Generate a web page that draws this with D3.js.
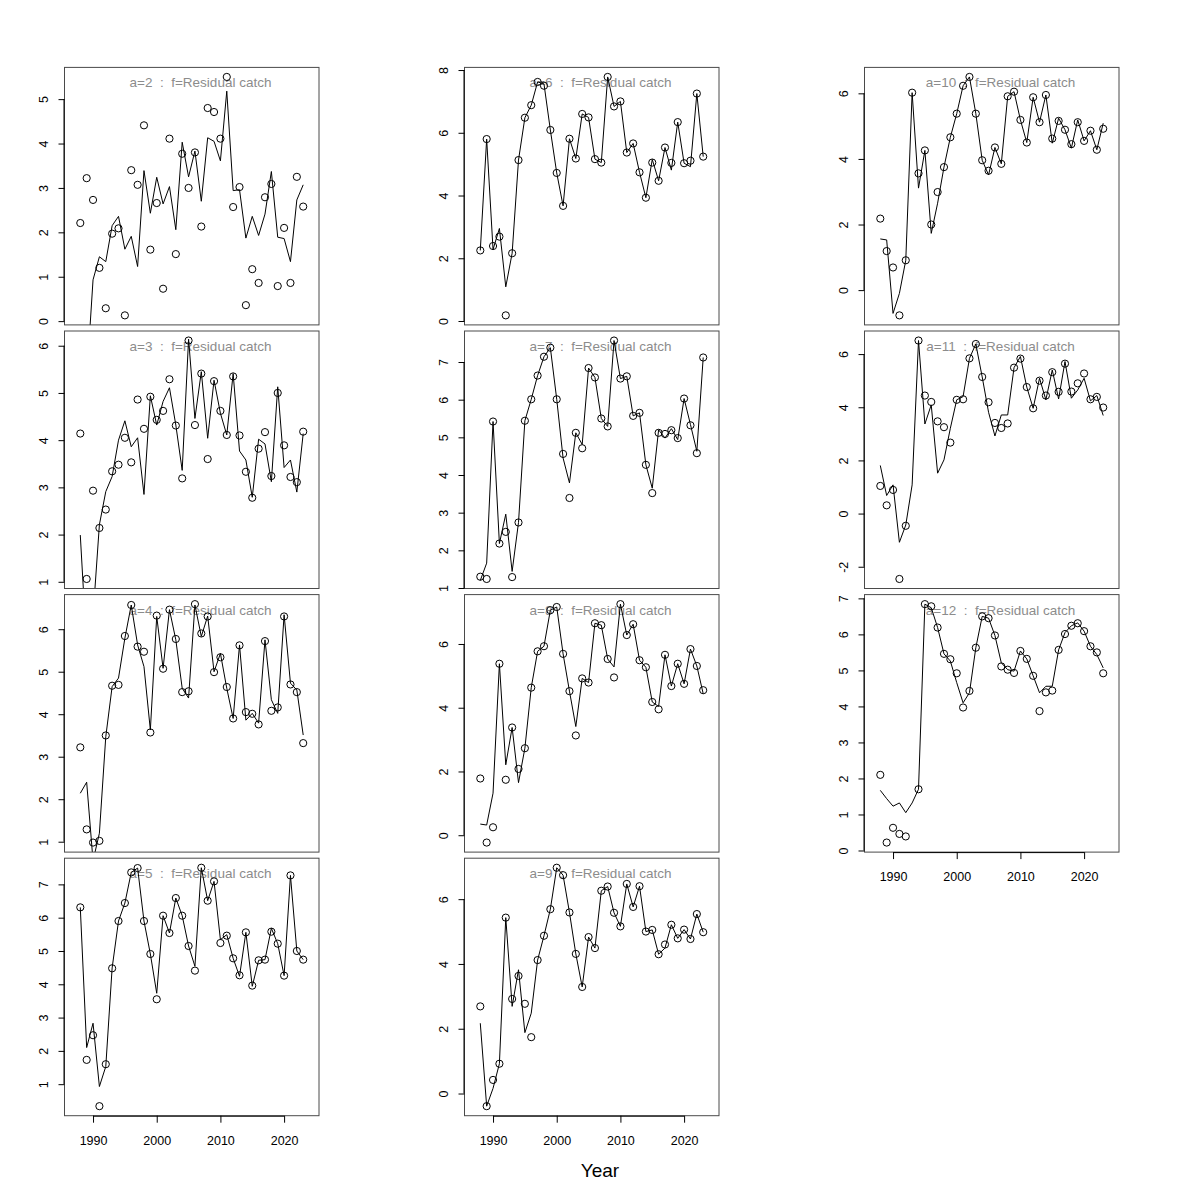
<!DOCTYPE html>
<html><head><meta charset="utf-8">
<script src="https://cdn.jsdelivr.net/npm/d3@7"></script>
<style>
body{margin:0;background:#fff;}
text{font-family:"Liberation Sans", Arial, Helvetica, sans-serif;}
</style>
</head><body>
<svg id="chart" width="1200" height="1200"></svg>
<script>
const years = [1988,1989,1990,1991,1992,1993,1994,1995,1996,1997,1998,1999,2000,2001,2002,2003,2004,2005,2006,2007,2008,2009,2010,2011,2012,2013,2014,2015,2016,2017,2018,2019,2020,2021,2022,2023];
const xTicks = [1990,2000,2010,2020];
const ages = [2,3,4,5,6,7,8,9,10,11,12];

const obs2 = [2.21,3.22,2.73,1.20,0.29,1.97,2.09,0.13,3.40,3.07, 4.41,1.61,2.66,0.73,4.11,1.51,3.77,3.00,3.80,2.13, 4.80,4.71,4.11,5.50,2.57,3.02,0.36,1.17,0.86,2.79, 3.09,0.79,2.10,0.86,3.25,2.58];
const fit2 = [-2.0,-1.3,0.93,1.45,1.34,2.15,2.36,1.62,1.91,1.23, 3.39,2.43,3.24,2.64,3.03,2.06,4.03,3.25,3.83,2.70, 4.13,4.05,3.61,5.18,2.94,2.96,1.87,2.36,1.93,2.41, 3.37,1.89,1.86,1.34,2.73,3.07];
const ticks2 = [0,1,2,3,4,5];

const obs3 = [4.14,1.06,2.93,2.14,2.53,3.34,3.48,4.05,3.53,4.86, 4.24,4.92,4.43,4.62,5.29,4.31,3.19,6.11,4.32,5.41, 3.60,5.25,4.62,4.11,5.35,4.10,3.33,2.78,3.82,4.17, 3.24,5.00,3.89,3.22,3.11,4.18];
const fit3 = [1.99,-0.39,0.27,2.21,2.91,3.23,4.00,4.41,3.86,4.05, 2.85,4.94,4.32,4.82,5.11,4.32,3.36,6.14,4.46,5.45, 4.04,5.27,4.57,4.11,5.41,3.77,3.58,2.79,4.02,3.92, 3.12,5.13,3.42,3.58,2.90,4.14];
const ticks3 = [1,2,3,4,5,6];

const obs4 = [3.22,1.29,0.98,1.02,3.50,4.67,4.69,5.84,6.57,5.59, 5.47,3.57,6.32,5.07,6.46,5.77,4.52,4.54,6.59,5.90, 6.30,4.99,5.34,4.64,3.90,5.62,4.05,4.01,3.76,5.72, 4.08,4.16,6.30,4.70,4.52,3.32];
const fit4 = [2.14,2.40,0.55,1.20,3.47,4.65,4.85,5.79,6.57,5.63, 5.12,3.63,6.30,5.08,6.46,5.75,4.61,4.38,6.57,5.83, 6.31,5.00,5.43,4.61,3.90,5.63,3.86,4.02,3.79,5.75, 4.34,4.02,6.34,4.73,4.57,3.51];
const ticks4 = [1,2,3,4,5,6];

const obs5 = [6.31,1.73,2.47,0.34,1.60,4.48,5.90,6.44,7.36,7.49, 5.90,4.91,3.55,6.06,5.54,6.59,6.06,5.15,4.41,7.50, 6.51,7.09,5.24,5.46,4.78,4.27,5.56,3.96,4.72,4.74, 5.58,5.22,4.26,7.27,5.00,4.74];
const fit5 = [6.31,2.10,2.83,0.93,1.53,4.49,5.90,6.44,7.36,7.49, 5.90,4.91,3.73,6.06,5.54,6.59,6.06,5.15,4.54,7.50, 6.51,7.09,5.34,5.49,4.78,4.24,5.56,3.94,4.72,4.74, 5.68,5.22,4.26,7.27,5.00,4.74];
const ticks5 = [1,2,3,4,5,6,7];

const obs6 = [2.25,5.80,2.39,2.69,0.18,2.16,5.13,6.48,6.88,7.62, 7.50,6.09,4.72,3.67,5.81,5.18,6.60,6.49,5.16,5.05, 7.78,6.84,7.00,5.37,5.66,4.74,3.93,5.05,4.47,5.53, 5.04,6.34,5.03,5.11,7.25,5.24];
const fit6 = [2.25,5.80,2.28,2.95,1.09,2.16,5.13,6.48,6.88,7.62, 7.56,6.09,4.72,3.67,5.81,5.18,6.60,6.49,5.16,5.05, 7.78,6.84,7.00,5.37,5.66,4.74,3.93,5.15,4.47,5.53, 4.81,6.34,5.03,4.92,7.25,5.24];
const ticks6 = [0,2,4,6,8];

const obs7 = [1.30,1.24,5.42,2.18,2.49,1.29,2.74,5.44,6.01,6.64, 7.14,7.38,6.01,4.56,3.39,5.12,4.71,6.84,6.59,5.50, 5.29,7.57,6.56,6.62,5.57,5.65,4.27,3.52,5.12,5.09, 5.19,4.98,6.03,5.32,4.58,7.12];
const fit7 = [1.20,1.66,5.42,2.18,2.96,1.44,2.74,5.44,6.01,6.64, 7.14,7.38,6.01,4.45,3.79,5.12,4.81,6.84,6.59,5.50, 5.29,7.57,6.56,6.62,5.57,5.65,4.27,3.65,5.20,4.98, 5.23,4.94,6.03,5.34,4.63,7.12];
const ticks7 = [1,2,3,4,5,6,7];

const obs8 = [1.78,-0.23,0.25,5.38,1.74,3.38,2.08,2.73,4.63,5.77, 5.93,7.06,7.16,5.69,4.52,3.13,4.92,4.79,6.65,6.59, 5.53,4.95,7.25,6.28,6.62,5.49,5.27,4.18,3.95,5.66, 4.68,5.38,4.75,5.84,5.31,4.55];
const fit8 = [0.35,0.32,1.32,5.38,2.21,3.38,1.65,2.73,4.63,5.77, 5.93,7.06,7.16,5.69,4.52,3.41,4.92,4.79,6.65,6.59, 5.53,5.28,7.25,6.28,6.62,5.49,5.27,4.18,4.04,5.66, 4.68,5.38,4.75,5.84,5.31,4.44];
const ticks8 = [0,2,4,6];

const obs9 = [2.69,-0.39,0.42,0.92,5.43,2.92,3.63,2.77,1.74,4.12, 4.87,5.69,6.97,6.74,5.59,4.31,3.29,4.83,4.49,6.26, 6.39,5.58,5.16,6.47,5.76,6.40,5.00,5.05,4.30,4.60, 5.21,4.79,5.06,4.77,5.54,4.98];
const fit9 = [2.17,-0.39,0.16,0.92,5.43,2.69,3.82,1.88,2.48,4.12, 4.87,5.69,6.97,6.74,5.59,4.31,3.29,4.83,4.49,6.26, 6.39,5.58,5.16,6.47,5.76,6.40,5.00,5.05,4.30,4.49, 5.21,4.79,5.06,4.77,5.54,4.98];
const ticks9 = [0,2,4,6];

const obs10 = [2.18,1.19,0.69,-0.77,0.91,6.02,3.56,4.26,2.00,2.99, 3.75,4.66,5.38,6.23,6.50,5.38,3.96,3.64,4.35,3.85, 5.91,6.05,5.19,4.50,5.88,5.12,5.95,4.62,5.16,4.89, 4.45,5.12,4.55,4.86,4.28,4.92];
const fit10 = [1.56,1.53,-0.71,-0.10,0.91,6.02,3.11,4.26,1.73,2.65, 3.75,4.66,5.38,6.23,6.50,5.38,3.96,3.51,4.35,3.85, 5.91,6.05,5.19,4.50,5.88,5.12,5.95,4.48,5.24,4.89, 4.33,5.19,4.55,4.86,4.28,5.09];
const ticks10 = [0,2,4,6];

const obs11 = [1.04,0.31,0.89,-2.46,-0.46,null,6.51,4.44,4.20,3.47, 3.25,2.67,4.28,4.30,5.84,6.38,5.14,4.19,3.41,3.22, 3.39,5.49,5.83,4.76,3.96,5.00,4.44,5.32,4.58,5.64, 4.59,4.90,5.27,4.30,4.39,3.99];
const fit11 = [1.81,0.68,1.08,-1.08,-0.43,1.08,6.51,3.37,4.09,1.52, 2.02,3.21,4.28,4.40,5.84,6.38,5.14,3.81,2.92,3.71, 3.71,5.49,5.91,4.76,3.96,5.09,4.28,5.40,4.31,5.72, 4.34,4.65,5.09,4.24,4.44,3.69];
const ticks11 = [-2,0,2,4,6];

const obs12 = [2.10,0.22,0.63,0.46,0.39,null,1.70,6.84,6.78,6.19, 5.46,5.31,4.92,3.97,4.43,5.63,6.50,6.45,5.97,5.11, 5.02,4.93,5.54,5.32,4.85,3.87,4.39,4.44,5.57,6.01, 6.24,6.31,6.09,5.67,5.50,4.92];
const fit12 = [1.67,1.44,1.23,1.32,1.05,1.32,1.70,6.84,6.74,6.19, 5.46,5.26,4.66,4.10,4.38,5.63,6.50,6.45,5.97,5.21, 5.02,4.98,5.54,5.32,4.85,4.38,4.56,4.56,5.57,6.05, 6.24,6.32,6.09,5.67,5.44,5.07];
const ticks12 = [0,1,2,3,4,5,6,7];

const seriesTable = [
  {age:2, obs:obs2, fit:fit2, ticks:ticks2},
  {age:3, obs:obs3, fit:fit3, ticks:ticks3},
  {age:4, obs:obs4, fit:fit4, ticks:ticks4},
  {age:5, obs:obs5, fit:fit5, ticks:ticks5},
  {age:6, obs:obs6, fit:fit6, ticks:ticks6},
  {age:7, obs:obs7, fit:fit7, ticks:ticks7},
  {age:8, obs:obs8, fit:fit8, ticks:ticks8},
  {age:9, obs:obs9, fit:fit9, ticks:ticks9},
  {age:10, obs:obs10, fit:fit10, ticks:ticks10},
  {age:11, obs:obs11, fit:fit11, ticks:ticks11},
  {age:12, obs:obs12, fit:fit12, ticks:ticks12}
];
const bottomAges = [5, 9, 12];

const svg = d3.select("#chart");
svg.append("rect").attr("width",1200).attr("height",1200).attr("fill","#fff");

const PW = 254.5, PH = 257.5;
const colX = c => 64.5 + 400 * c;
const rowY = r => 67.4 + 263.6 * r;
const xDomain = [1985.52, 2025.48];

seriesTable.forEach((s, k) => {
  const col = Math.floor(k / 4), row = k % 4;
  const x0 = colX(col), y0 = rowY(row);
  const vals = s.obs.filter(v => v !== null);
  const lo = d3.min(vals), hi = d3.max(vals);
  const pad = (hi - lo) * 0.04;
  const x = d3.scaleLinear().domain(xDomain).range([x0, x0 + PW]);
  const y = d3.scaleLinear().domain([lo - pad, hi + pad]).range([y0 + PH, y0]);
  const g = svg.append("g");

  const clipId = "clip" + s.age;
  svg.append("clipPath").attr("id", clipId)
    .append("rect").attr("x", x0).attr("y", y0).attr("width", PW).attr("height", PH);

  // title
  g.append("text")
    .attr("x", x0 + 136).attr("y", y0 + 20)
    .attr("text-anchor", "middle")
    .attr("fill", "#8c8c8c")
    .attr("font-size", "13.5px")
    .style("white-space", "pre")
    .text("a=" + s.age + "  :  f=Residual catch");

  // fitted line
  const line = d3.line()
    .defined(d => d.v !== null)
    .x(d => x(d.yr)).y(d => y(d.v));
  g.append("path")
    .datum(years.map((yr, i) => ({yr, v: s.fit[i]})))
    .attr("clip-path", "url(#" + clipId + ")")
    .attr("d", line)
    .attr("fill", "none").attr("stroke", "#000").attr("stroke-width", 1);

  // observed points
  g.append("g").attr("clip-path", "url(#" + clipId + ")")
    .selectAll("circle")
    .data(years.map((yr, i) => ({yr, v: s.obs[i]})).filter(d => d.v !== null))
    .join("circle")
    .attr("cx", d => x(d.yr)).attr("cy", d => y(d.v)).attr("r", 3.6)
    .attr("fill", "none").attr("stroke", "#000").attr("stroke-width", 1);

  // box
  g.append("rect").attr("x", x0).attr("y", y0).attr("width", PW).attr("height", PH)
    .attr("fill", "none").attr("stroke", "#4a4a4a").attr("stroke-width", 1);

  // y axis
  const yAxis = d3.axisLeft(y).tickValues(s.ticks).tickSize(6).tickPadding(4).tickFormat(d => d < 0 ? "-" + Math.abs(d) : String(d));
  const ya = g.append("g").attr("transform", `translate(${x0},0)`).call(yAxis);
  ya.select(".domain").attr("d", `M-0.5,${y(s.ticks[0])}V${y(s.ticks[s.ticks.length-1])}`).attr("stroke", "#000");
  ya.selectAll(".tick line").attr("stroke", "#000");
  ya.selectAll(".tick text")
    .attr("font-size", "12.5px").attr("fill", "#000")
    .attr("font-family", '"Liberation Sans", Arial, sans-serif')
    .attr("x", null).attr("dy", null)
    .attr("text-anchor", "middle")
    .attr("transform", "translate(-21,0) rotate(-90)")
    .attr("dominant-baseline", "central");

  if (bottomAges.includes(s.age)) {
    const xAxis = d3.axisBottom(x).tickValues(xTicks).tickSize(7).tickPadding(13).tickFormat(d3.format("d"));
    const xa = g.append("g").attr("transform", `translate(0,${y0 + PH})`).call(xAxis);
    xa.select(".domain").attr("d", `M${x(xTicks[0])},0.5H${x(xTicks[xTicks.length-1])}`).attr("stroke", "#000");
    xa.selectAll(".tick text").attr("font-size", "12.5px").attr("fill", "#000")
      .attr("font-family", '"Liberation Sans", Arial, sans-serif');
  }
});

svg.append("text").attr("x", 600).attr("y", 1177).attr("text-anchor", "middle")
  .attr("font-size", "19px").attr("fill", "#000").text("Year");
</script>
</body></html>
